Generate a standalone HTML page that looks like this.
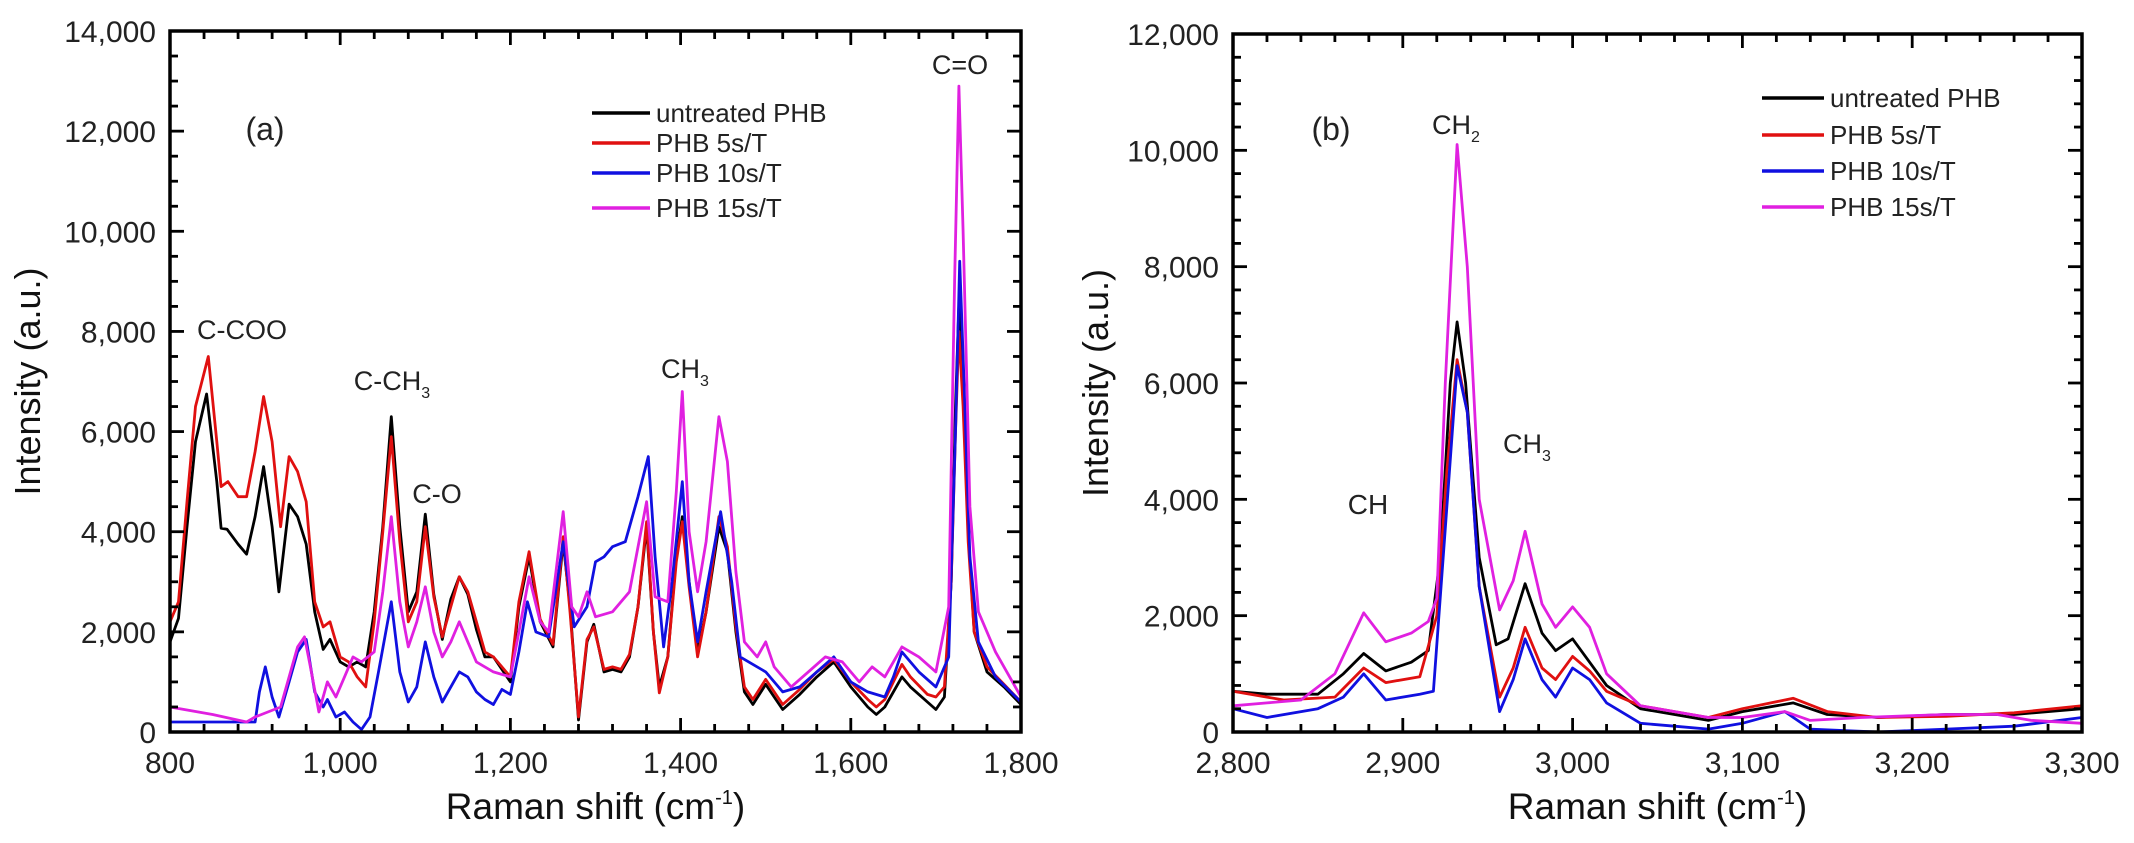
<!DOCTYPE html>
<html><head><meta charset="utf-8"><style>
html,body{margin:0;padding:0;background:#fff;}
svg{display:block;font-family:"Liberation Sans",sans-serif;}
</style></head><body>
<svg id="chart" width="2134" height="843" viewBox="0 0 2134 843" xmlns="http://www.w3.org/2000/svg"></svg>
<script>
// ---------- Panel (a) data ----------
const aXTicks = [800,1000,1200,1400,1600,1800];
const aXTickLabels = ["800","1,000","1,200","1,400","1,600","1,800"];
const aYTicks = [0,2000,4000,6000,8000,10000,12000,14000];
const aYTickLabels = ["0","2,000","4,000","6,000","8,000","10,000","12,000","14,000"];
const aBlack = [[800,1800],[810,2270],[820,4100],[830,5800],[843,6750],[855,5000],[860,4070],[867,4050],[880,3750],[890,3550],[900,4300],[910,5300],[920,4100],[928,2800],[940,4550],[950,4300],[960,3750],[970,2400],[980,1650],[988,1850],[1000,1400],[1010,1300],[1020,1400],[1030,1300],[1040,2400],[1050,4100],[1060,6300],[1070,4100],[1080,2400],[1090,2800],[1100,4350],[1110,2750],[1120,1850],[1130,2650],[1140,3100],[1150,2750],[1160,2050],[1170,1500],[1180,1500],[1190,1250],[1200,1000],[1210,2500],[1222,3500],[1235,2200],[1250,1700],[1262,3800],[1270,2500],[1280,240],[1290,1800],[1298,2150],[1310,1200],[1320,1250],[1330,1200],[1340,1500],[1350,2500],[1360,4100],[1368,2000],[1375,900],[1385,1500],[1395,3500],[1402,4300],[1410,3000],[1420,1600],[1430,2400],[1445,4100],[1455,3600],[1465,2000],[1475,800],[1485,550],[1500,950],[1510,700],[1520,450],[1540,750],[1560,1100],[1580,1400],[1600,900],[1620,500],[1630,350],[1640,500],[1660,1100],[1670,900],[1690,600],[1700,450],[1710,700],[1718,3000],[1723,6500],[1727,8500],[1732,7000],[1738,4000],[1745,2000],[1760,1200],[1780,900],[1800,550]];
const aRed = [[800,2200],[810,2600],[820,4600],[830,6500],[845,7500],[855,5800],[860,4900],[868,5000],[880,4700],[890,4700],[900,5600],[910,6700],[920,5800],[930,4100],[940,5500],[950,5200],[960,4600],[970,2600],[980,2100],[988,2200],[1000,1500],[1010,1400],[1020,1100],[1030,900],[1040,2200],[1050,4000],[1060,5900],[1070,3800],[1080,2200],[1090,2600],[1100,4100],[1110,2700],[1120,1900],[1130,2500],[1140,3100],[1150,2800],[1160,2200],[1170,1600],[1180,1500],[1190,1300],[1200,1100],[1210,2600],[1222,3600],[1235,2250],[1250,1750],[1262,3900],[1270,2400],[1280,300],[1290,1850],[1298,2100],[1310,1250],[1320,1300],[1330,1250],[1340,1550],[1350,2500],[1360,4200],[1368,2000],[1375,780],[1385,1500],[1395,3400],[1402,4200],[1410,2900],[1420,1500],[1430,2400],[1445,4300],[1455,3700],[1465,2100],[1475,900],[1485,650],[1500,1050],[1510,800],[1520,550],[1540,850],[1560,1200],[1580,1450],[1600,1000],[1620,650],[1630,500],[1640,650],[1660,1350],[1670,1100],[1690,750],[1700,700],[1710,900],[1718,3000],[1723,6000],[1727,8000],[1732,6500],[1738,3800],[1745,2000],[1760,1300],[1780,950],[1800,600]];
const aBlue = [[800,200],[850,200],[900,200],[905,800],[912,1300],[920,700],[928,300],[940,1000],[950,1600],[960,1850],[970,800],[980,500],[985,650],[995,300],[1005,400],[1015,200],[1025,50],[1035,300],[1045,1200],[1060,2600],[1070,1200],[1080,600],[1090,900],[1100,1800],[1110,1100],[1120,600],[1140,1200],[1150,1100],[1160,800],[1170,650],[1180,550],[1190,850],[1200,750],[1210,1600],[1220,2600],[1230,2000],[1245,1900],[1262,3800],[1275,2100],[1290,2500],[1300,3400],[1310,3500],[1320,3700],[1335,3800],[1350,4700],[1362,5500],[1370,3500],[1380,1700],[1390,3000],[1402,5000],[1410,3000],[1420,1800],[1430,2800],[1447,4400],[1460,3000],[1470,1500],[1480,1400],[1500,1200],[1520,800],[1540,900],[1560,1200],[1580,1500],[1600,1000],[1620,800],[1640,700],[1650,1100],[1660,1600],[1680,1200],[1700,900],[1715,1500],[1723,6000],[1728,9400],[1733,7000],[1740,3500],[1750,1800],[1770,1100],[1800,600]];
const aMagenta = [[800,500],[850,350],[890,200],[900,300],[930,500],[950,1700],[958,1900],[965,1300],[975,400],[985,1000],[995,700],[1005,1100],[1015,1500],[1025,1400],[1040,1600],[1050,2800],[1060,4300],[1070,2600],[1080,1700],[1090,2200],[1100,2900],[1110,2000],[1120,1500],[1130,1800],[1140,2200],[1150,1800],[1160,1400],[1180,1200],[1200,1100],[1210,2000],[1222,3100],[1235,2200],[1245,2000],[1262,4400],[1272,2500],[1280,2300],[1290,2800],[1300,2300],[1320,2400],[1340,2800],[1360,4600],[1370,2700],[1385,2600],[1395,4800],[1402,6800],[1410,4000],[1420,2800],[1430,3800],[1445,6300],[1455,5400],[1465,3200],[1475,1800],[1490,1500],[1500,1800],[1510,1300],[1530,900],[1550,1200],[1570,1500],[1590,1400],[1610,1000],[1625,1300],[1640,1100],[1650,1400],[1660,1700],[1680,1500],[1700,1200],[1715,2500],[1722,9000],[1727,12900],[1732,10000],[1740,4500],[1750,2400],[1770,1600],[1790,1000],[1800,700]];

// ---------- Panel (b) data ----------
const bXTicks = [2800,2900,3000,3100,3200,3300];
const bXTickLabels = ["2,800","2,900","3,000","3,100","3,200","3,300"];
const bYTicks = [0,2000,4000,6000,8000,10000,12000];
const bYTickLabels = ["0","2,000","4,000","6,000","8,000","10,000","12,000"];
const bBlack = [[2800,700],[2820,650],[2850,650],[2865,1000],[2877,1350],[2890,1050],[2905,1200],[2915,1400],[2922,3000],[2928,6000],[2932,7050],[2937,6000],[2945,3000],[2955,1500],[2962,1600],[2972,2550],[2982,1700],[2990,1400],[3000,1600],[3010,1200],[3020,800],[3040,400],[3060,300],[3080,200],[3100,350],[3130,500],[3150,300],[3180,250],[3220,300],[3260,300],[3300,400]];
const bRed = [[2800,700],[2830,550],[2860,600],[2877,1100],[2890,850],[2910,950],[2920,2000],[2926,4500],[2932,6400],[2938,5500],[2945,2500],[2957,600],[2965,1100],[2972,1800],[2982,1100],[2990,900],[3000,1300],[3010,1050],[3020,700],[3040,450],[3060,350],[3080,250],[3100,400],[3130,580],[3150,350],[3180,250],[3220,270],[3260,330],[3300,450]];
const bBlue = [[2800,400],[2820,250],[2850,400],[2865,600],[2877,1000],[2890,550],[2910,650],[2918,700],[2925,3500],[2932,6300],[2938,5500],[2945,2500],[2957,350],[2965,900],[2972,1600],[2982,900],[2990,600],[3000,1100],[3010,900],[3020,500],[3040,150],[3060,100],[3080,50],[3100,150],[3125,350],[3140,50],[3180,0],[3220,50],[3260,100],[3300,250]];
const bMagenta = [[2800,450],[2820,500],[2840,550],[2860,1000],[2877,2050],[2890,1550],[2905,1700],[2915,1900],[2920,2300],[2925,6000],[2932,10100],[2938,8000],[2945,4000],[2957,2100],[2965,2600],[2972,3450],[2982,2200],[2990,1800],[3000,2150],[3010,1800],[3020,1000],[3040,450],[3060,350],[3080,250],[3100,250],[3125,350],[3140,200],[3170,250],[3220,300],[3250,300],[3270,200],[3300,150]];

const seriesNames = ["untreated PHB","PHB 5s/T","PHB 10s/T","PHB 15s/T"];

const NS = "http://www.w3.org/2000/svg";
const svg = document.getElementById('chart');
function mk(tag, attrs, parent){ const e=document.createElementNS(NS,tag); for(const k in attrs) e.setAttribute(k,attrs[k]); (parent||svg).appendChild(e); return e; }

const colors = ["#000000","#e01010","#1010e0","#e020e0"];

function panel(cfg){
  const g = mk('g',{});
  
  
  const {L,R,T,B,xmin,xmax,ymin,ymax} = cfg;
  const sx = v => L + (v - xmin)/(xmax - xmin)*(R-L);
  const sy = v => B - (v - ymin)/(ymax - ymin)*(B-T);
  cfg.series.forEach((s,i)=>{
    const p = mk('polyline',{points:s.map(d=>sx(d[0]).toFixed(1)+','+sy(d[1]).toFixed(1)).join(' '),fill:'none',stroke:colors[i],'stroke-width':2.8,'stroke-linejoin':'round'},g);
    
    
  });
  const fr = mk('rect',{x:L,y:T,width:R-L,height:B-T,fill:'none',stroke:'#000','stroke-width':3.5},g);
  
  
  for(let v=xmin; v<=xmax+1e-9; v+=cfg.xMinor){
    const major = cfg.xTicks.some(t=>Math.abs(t-v)<1e-6);
    const len = major?14:8;
    mk('line',{x1:sx(v),x2:sx(v),y1:B,y2:B-len,stroke:'#000','stroke-width':2.8},g);
    mk('line',{x1:sx(v),x2:sx(v),y1:T,y2:T+len,stroke:'#000','stroke-width':2.8},g);
  }
  for(let v=ymin; v<=ymax+1e-9; v+=cfg.yMinor){
    const major = cfg.yTicks.some(t=>Math.abs(t-v)<1e-6);
    const len = major?14:8;
    mk('line',{x1:L,x2:L+len,y1:sy(v),y2:sy(v),stroke:'#000','stroke-width':2.8},g);
    mk('line',{x1:R,x2:R-len,y1:sy(v),y2:sy(v),stroke:'#000','stroke-width':2.8},g);
  }
  cfg.xTicks.forEach((v,i)=>{
    const t = mk('text',{x:sx(v),y:B+41,'text-anchor':'middle','font-size':30,fill:'#222'},g);
    t.textContent = cfg.xLabels[i];
    
    
  });
  cfg.yTicks.forEach((v,i)=>{
    const t = mk('text',{x:L-14,y:sy(v)+11,'text-anchor':'end','font-size':30,fill:'#222'},g);
    t.textContent = cfg.yLabels[i];
    
    
  });
  const xt = mk('text',{x:(L+R)/2,y:819,'text-anchor':'middle','font-size':37,fill:'#111'},g);
  xt.innerHTML = 'Raman shift (cm<tspan font-size="20" dy="-15">-1</tspan><tspan dy="15">)</tspan>';
  
  
  const yt = mk('text',{x:0,y:0,'text-anchor':'middle','font-size':36,fill:'#111',textLength:228,lengthAdjust:'spacingAndGlyphs',transform:`translate(${cfg.yTitleX},${(T+B)/2}) rotate(-90)`},g);
  yt.textContent = 'Intensity (a.u.)';
  
  
  seriesNames.forEach((n,i)=>{
    const y = cfg.legY[i];
    const ln = mk('line',{x1:cfg.legX,x2:cfg.legX+cfg.legW,y1:y,y2:y,stroke:colors[i],'stroke-width':3.5},g);
    
    
    const t = mk('text',{x:cfg.legX+cfg.legW+6,y:y+9,'font-size':26,fill:'#222'},g);
    t.textContent = n;
    
    
  });
  cfg.notes.forEach(nt=>{
    const t = mk('text',{x:nt[0],y:nt[1],'text-anchor':'middle','font-size':nt[3]||27,fill:'#222'},g);
    t.innerHTML = nt[2];
    
    
  });
}

panel({name:'panel-a',L:170,R:1021,T:31,B:732,xmin:800,xmax:1800,ymin:0,ymax:14000,xMinor:40,yMinor:500,
  xTicks:aXTicks,xLabels:aXTickLabels,yTicks:aYTicks,yLabels:aYTickLabels,
  series:[aBlack,aRed,aBlue,aMagenta],yTitleX:40,
  legX:592,legW:58,legY:[113,143,173,208],
  notes:[[265,140,'(a)',32],[242,339,'C-COO'],[392,390,'C-CH<tspan font-size="16" dy="8">3</tspan>'],[437,503,'C-O'],[685,378,'CH<tspan font-size="16" dy="8">3</tspan>'],[960,74,'C=O']]});

panel({name:'panel-b',L:1233,R:2082,T:34,B:732,xmin:2800,xmax:3300,ymin:0,ymax:12000,xMinor:20,yMinor:400,
  xTicks:bXTicks,xLabels:bXTickLabels,yTicks:bYTicks,yLabels:bYTickLabels,
  series:[bBlack,bRed,bBlue,bMagenta],yTitleX:1108,
  legX:1762,legW:62,legY:[98,135,171,207],
  notes:[[1331,140,'(b)',32],[1456,134,'CH<tspan font-size="16" dy="8">2</tspan>'],[1527,453,'CH<tspan font-size="16" dy="8">3</tspan>'],[1368,514,'CH',28]]});
</script>
</body></html>
